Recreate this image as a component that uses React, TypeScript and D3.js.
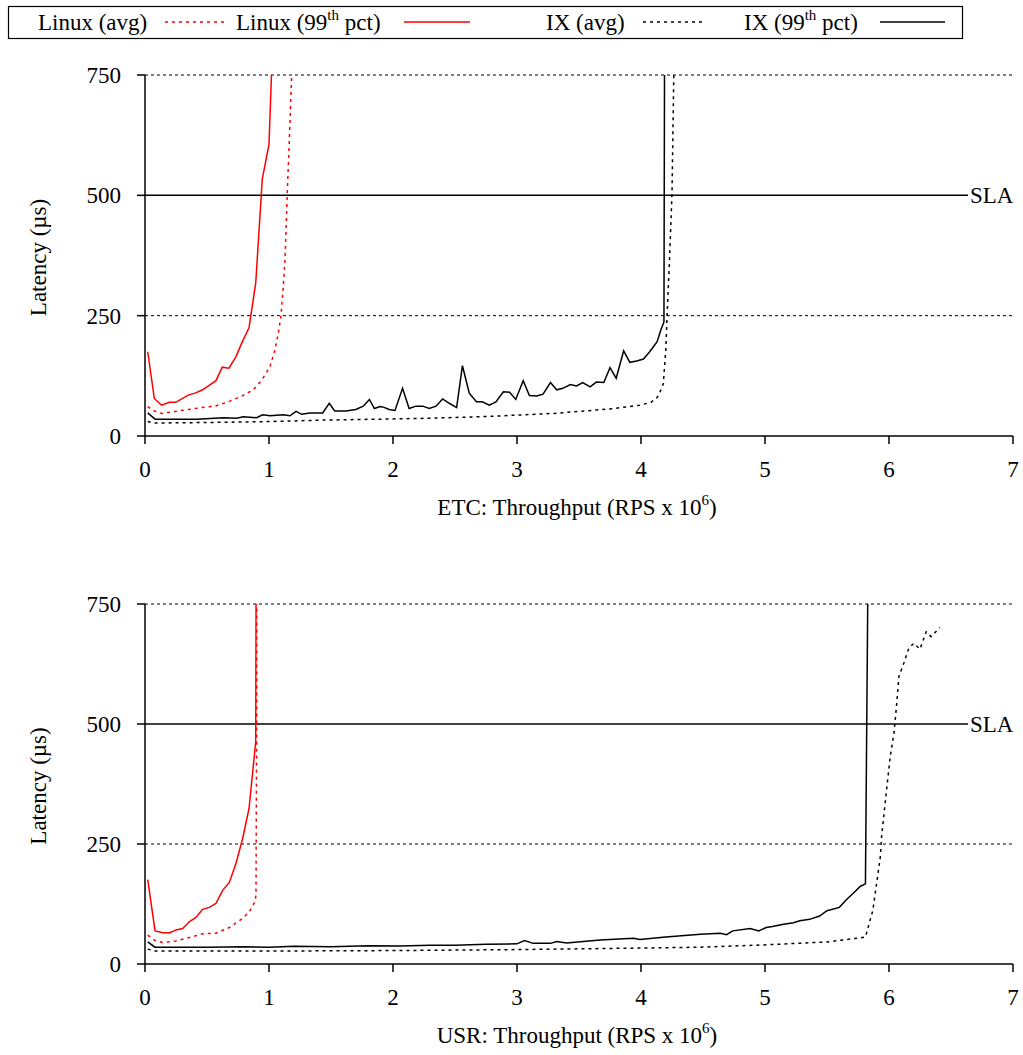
import React from 'react';
import * as d3 from 'd3';

type Pt = [number, number];

// ETC workload: [throughput (RPS x 10^6), latency (us)]
const etcLinuxAvg: Pt[] = [
  [0.022, 61], [0.075, 52], [0.134, 47], [0.242, 51], [0.349, 55], [0.457, 59], [0.565, 62],
  [0.672, 71], [0.78, 83], [0.873, 96], [0.941, 116], [1.008, 144], [1.048, 179], [1.075, 213],
  [1.097, 251], [1.115, 310], [1.129, 366], [1.147, 504], [1.163, 608], [1.183, 750], [1.19, 800],
];
const etcLinux99: Pt[] = [
  [0.022, 175], [0.075, 78], [0.134, 64], [0.196, 70], [0.247, 70], [0.349, 85], [0.403, 89],
  [0.465, 96], [0.572, 115], [0.623, 143], [0.677, 141], [0.734, 165], [0.785, 196], [0.839, 225],
  [0.893, 318], [0.946, 534], [1.0, 606], [1.02, 750], [1.025, 800],
];
const etcIxAvg: Pt[] = [
  [0.022, 30], [0.08, 27], [0.5, 28], [1.0, 30], [1.44, 33], [1.9, 35], [2.3, 37], [2.56, 39],
  [2.8, 41], [3.05, 44], [3.3, 47], [3.5, 51], [3.78, 57], [3.99, 64], [4.08, 70], [4.13, 80],
  [4.15, 89], [4.18, 109], [4.2, 179], [4.21, 248], [4.23, 366], [4.25, 504], [4.265, 760],
];
const etcIx99: Pt[] = [
  [0.022, 48], [0.081, 35], [0.417, 35], [0.632, 38], [0.739, 37], [0.793, 40], [0.9, 38],
  [0.949, 44], [1.008, 42], [1.116, 44], [1.169, 42], [1.218, 51], [1.263, 45], [1.331, 48],
  [1.433, 48], [1.486, 68], [1.53, 52], [1.62, 52], [1.7, 55], [1.76, 62], [1.81, 76], [1.85, 57],
  [1.895, 61], [1.922, 60], [1.97, 55], [2.016, 53], [2.077, 99], [2.13, 57], [2.185, 62],
  [2.24, 62], [2.293, 57], [2.347, 62], [2.4, 77], [2.454, 68], [2.513, 59], [2.56, 146],
  [2.615, 89], [2.673, 71], [2.72, 71], [2.776, 64], [2.83, 71], [2.89, 92], [2.94, 91],
  [2.99, 76], [3.05, 115], [3.1, 84], [3.16, 83], [3.21, 87], [3.27, 111], [3.32, 96],
  [3.37, 99], [3.43, 107], [3.48, 104], [3.53, 111], [3.59, 102], [3.64, 112], [3.7, 111],
  [3.75, 142], [3.8, 120], [3.86, 177], [3.91, 153], [3.965, 156], [4.02, 160], [4.07, 175],
  [4.13, 196], [4.16, 220], [4.185, 237], [4.19, 800],
];

// USR workload
const usrLinuxAvg: Pt[] = [
  [0.022, 60], [0.081, 49], [0.143, 45], [0.25, 48], [0.357, 55], [0.465, 63], [0.572, 64],
  [0.68, 76], [0.788, 95], [0.841, 109], [0.887, 130], [0.895, 144], [0.9, 460], [0.902, 800],
];
const usrLinux99: Pt[] = [
  [0.022, 176], [0.081, 69], [0.143, 65], [0.202, 65], [0.25, 71], [0.304, 74], [0.357, 88],
  [0.411, 97], [0.465, 114], [0.518, 118], [0.572, 126], [0.627, 154], [0.68, 170], [0.734, 210],
  [0.788, 262], [0.839, 324], [0.893, 463], [0.896, 800],
];
const usrIxAvg: Pt[] = [
  [0.022, 31], [0.08, 27], [1.0, 27], [2.0, 28], [3.0, 30], [3.94, 33], [4.48, 35], [4.74, 37.5],
  [5.01, 40], [5.5, 46], [5.69, 52], [5.81, 56], [5.87, 112], [5.93, 223], [5.94, 265],
  [5.98, 362], [6.01, 432], [6.04, 481], [6.06, 536], [6.08, 599], [6.12, 627], [6.16, 658],
  [6.2, 668], [6.25, 656], [6.3, 692], [6.34, 682], [6.37, 690], [6.41, 701],
];
const usrIx99: Pt[] = [
  [0.022, 46], [0.08, 35], [0.5, 35], [0.8, 36], [1.0, 35], [1.2, 37], [1.5, 36], [1.8, 38],
  [2.056, 37.5], [2.3, 39], [2.5, 39], [2.75, 41], [3.0, 42],
  [3.06, 49], [3.13, 43], [3.27, 43], [3.32, 47], [3.4, 44], [3.67, 50], [3.94, 53.5], [3.99, 51],
  [4.2, 56], [4.48, 62], [4.64, 64], [4.69, 61], [4.74, 69], [4.88, 74], [4.95, 69], [5.01, 76],
  [5.06, 78], [5.15, 83], [5.23, 86], [5.28, 90], [5.36, 93], [5.44, 100], [5.5, 111], [5.6, 118],
  [5.66, 135], [5.71, 147], [5.77, 162], [5.81, 167], [5.83, 800],
];

const xTicks = [0, 1, 2, 3, 4, 5, 6, 7];
const yTicks = [0, 250, 500, 750];
const slaValue = 500;

const FONT = '"Liberation Serif", "DejaVu Serif", serif';
const FS = 23;

const x = d3.scaleLinear().domain([0, 7]).range([145, 1013]);

function Panel({ id, top, bottom, name, series }: {
  id: string; top: number; bottom: number; name: string;
  series: { data: Pt[]; color: string; dashed: boolean }[];
}) {
  const y = d3.scaleLinear().domain([0, 750]).range([bottom, top]);
  const line = d3.line<Pt>().x(d => x(d[0])).y(d => y(d[1]));
  const [x0, x1] = x.range();
  return (
    <g>
      <defs>
        <clipPath id={id}>
          <rect x={x0} y={top} width={x1 - x0} height={bottom - top} />
        </clipPath>
      </defs>
      {yTicks.filter(t => t !== 0 && t !== slaValue).map(t => (
        <line key={t} x1={x0} x2={x1} y1={y(t)} y2={y(t)} stroke="#000" strokeWidth={1} strokeDasharray="3,3" />
      ))}
      <line x1={x0} x2={968} y1={y(slaValue)} y2={y(slaValue)} stroke="#000" strokeWidth={1.5} />
      <text x={970} y={y(slaValue)} dy="0.35em" fontSize={FS}>SLA</text>
      <g clipPath={`url(#${id})`}>
        {series.map((s, i) => (
          <path key={i} d={line(s.data) || ''} fill="none" stroke={s.color} strokeWidth={1.5}
            strokeDasharray={s.dashed ? '3,4' : undefined} />
        ))}
      </g>
      <line x1={x0} x2={x0} y1={top} y2={bottom} stroke="#000" strokeWidth={1.5} />
      <line x1={x0} x2={x1} y1={bottom} y2={bottom} stroke="#000" strokeWidth={1.5} />
      {yTicks.map(t => (
        <g key={t}>
          <line x1={x0 - 8} x2={x0} y1={y(t)} y2={y(t)} stroke="#000" strokeWidth={1.5} />
          <text x={121} y={y(t)} dy="0.35em" textAnchor="end" fontSize={FS}>{t}</text>
        </g>
      ))}
      {xTicks.map(t => (
        <g key={t}>
          <line x1={x(t)} x2={x(t)} y1={bottom} y2={bottom + 8} stroke="#000" strokeWidth={1.5} />
          <text x={x(t)} y={bottom + 41} textAnchor="middle" fontSize={FS}>{t}</text>
        </g>
      ))}
      <text x={577} y={bottom + 79} textAnchor="middle" fontSize={FS}>
        {name}: Throughput (RPS x 10<tspan fontSize={15} dy={-10}>6</tspan><tspan dy={10}>)</tspan>
      </text>
      <text transform={`translate(46,${(top + bottom) / 2 + 2}) rotate(-90)`} textAnchor="middle"
        fontSize={FS}>Latency (µs)</text>
    </g>
  );
}

const legendItems = [
  { label: 'Linux (avg)', sup: false, tx: 38, lx: [165, 228], color: 'red', dashed: true },
  { label: 'Linux (99', sup: true, tx: 236, lx: [404, 470], color: 'red', dashed: false },
  { label: 'IX (avg)', sup: false, tx: 546, lx: [643, 705], color: '#000', dashed: true },
  { label: 'IX (99', sup: true, tx: 744, lx: [880, 945], color: '#000', dashed: false },
];

export default function App() {
  return (
    <svg width={1023} height={1055} style={{ position: 'absolute', left: 0, top: 0, background: '#fff' }}
      fontFamily={FONT}>
      <rect x={0} y={0} width={1023} height={1055} fill="#fff" />
      <rect x={8.5} y={6.5} width={954} height={32} fill="none" stroke="#000" strokeWidth={1.2} />
      {legendItems.map((it, i) => (
        <g key={i}>
          <text x={it.tx} y={30} fontSize={FS}>
            {it.label}
            {it.sup && <><tspan fontSize={15} dy={-10}>th</tspan><tspan dy={10}> pct)</tspan></>}
          </text>
          <line x1={it.lx[0]} x2={it.lx[1]} y1={22} y2={22} stroke={it.color} strokeWidth={1.5}
            strokeDasharray={it.dashed ? '3,4' : undefined} />
        </g>
      ))}
      <Panel id="clipEtc" top={75} bottom={436} name="ETC" series={[
        { data: etcLinuxAvg, color: 'red', dashed: true },
        { data: etcLinux99, color: 'red', dashed: false },
        { data: etcIxAvg, color: '#000', dashed: true },
        { data: etcIx99, color: '#000', dashed: false },
      ]} />
      <Panel id="clipUsr" top={604} bottom={964} name="USR" series={[
        { data: usrLinuxAvg, color: 'red', dashed: true },
        { data: usrLinux99, color: 'red', dashed: false },
        { data: usrIxAvg, color: '#000', dashed: true },
        { data: usrIx99, color: '#000', dashed: false },
      ]} />
    </svg>
  );
}
